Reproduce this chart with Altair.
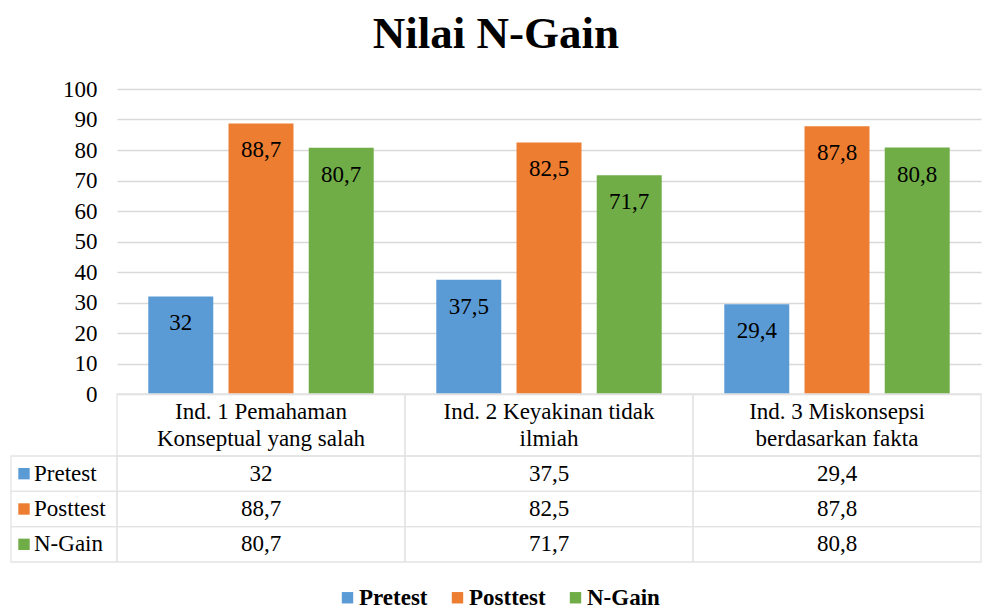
import altair as alt
import pandas as pd

FONT = "Liberation Serif"
FS = 23

categories = [
    "Ind. 1 Pemahaman\nKonseptual yang salah",
    "Ind. 2 Keyakinan tidak\nilmiah",
    "Ind. 3 Miskonsepsi\nberdasarkan fakta",
]
series = ["Pretest", "Posttest", "N-Gain"]
pretest = [32, 37.5, 29.4]
posttest = [88.7, 82.5, 87.8]
ngain = [80.7, 71.7, 80.8]
colors = ["#5b9bd5", "#ed7d31", "#70ad47"]
y_ticks = list(range(0, 101, 10))

rows = []
for s, vals in zip(series, [pretest, posttest, ngain]):
    for c, v in zip(categories, vals):
        rows.append({"category": c, "series": s, "value": v})
df = pd.DataFrame(rows)
hdr = pd.DataFrame({"category": categories})
lab = pd.DataFrame({"series": series})

GRID = "#d9d9d9"
TABLE = "#e4e4e4"
W = 864

xscale = alt.Scale(domain=categories, paddingInner=0, paddingOuter=0)
cscale = alt.Scale(domain=series, range=colors)
label_expr = "replace(toString(datum.value), '.', ',')"

base = alt.Chart(df).transform_calculate(label=label_expr)

xenc = alt.X("category:N", scale=xscale, axis=None, sort=categories)
xoff = alt.XOffset("series:N", scale=alt.Scale(domain=series, paddingInner=0.19, paddingOuter=0.39))
yenc = alt.Y(
    "value:Q",
    scale=alt.Scale(domain=[0, 100], nice=False),
    axis=alt.Axis(
        values=y_ticks, title=None, grid=True, gridColor=GRID, gridWidth=1.3,
        domain=False, ticks=False, labelFont=FONT, labelFontSize=FS,
        labelColor="black", labelPadding=20,
    ),
)

bars = base.mark_bar().encode(
    x=xenc,
    xOffset=xoff,
    y=yenc,
    color=alt.Color(
        "series:N", scale=cscale,
        legend=alt.Legend(
            orient="none", legendX=219, legendY=497, direction="horizontal", title=None,
            symbolType="square", symbolSize=130, symbolStrokeWidth=0,
            labelFont=FONT, labelFontWeight="bold", labelFontSize=FS,
            labelColor="black", columnPadding=18, labelOffset=0,
        ),
    ),
)
bar_labels = base.mark_text(font=FONT, fontSize=FS, baseline="middle", dy=27, color="black").encode(
    x=xenc, xOffset=xoff, y=yenc, text="label:N"
)
chart_bars = alt.layer(bars, bar_labels).properties(width=W, height=305)

# header row of the data table
hx = alt.X("category:N", scale=xscale, axis=None, sort=categories)
header_cells = alt.Chart(hdr).mark_rect(fillOpacity=0, stroke=TABLE, strokeWidth=1.3).encode(
    x=hx, y=alt.value(0), y2=alt.value(62)
)
header_text = alt.Chart(hdr).mark_text(
    font=FONT, fontSize=FS, lineBreak="\n", lineHeight=27, baseline="middle", dy=-13, color="black"
).encode(x=hx, y=alt.value(31), text="category:N")
chart_header = alt.layer(header_cells, header_text).properties(width=W, height=62)

# data rows of the table
ry = alt.Y("series:N", scale=alt.Scale(domain=series, paddingInner=0, paddingOuter=0), axis=None, sort=series)
row_cells = alt.Chart(df).mark_rect(fillOpacity=0, stroke=TABLE, strokeWidth=1.3).encode(
    x=hx, y=ry
)
row_text = base.mark_text(font=FONT, fontSize=FS, baseline="middle", color="black").encode(
    x=hx, y=ry, text="label:N"
)
left_cells = alt.Chart(lab).mark_rect(fillOpacity=0, stroke=TABLE, strokeWidth=1.3).encode(
    x=alt.value(-106), x2=alt.value(0), y=ry
)
left_keys = alt.Chart(lab).mark_point(shape="square", filled=True, size=130, opacity=1).encode(
    x=alt.value(-93), y=ry, color=alt.Color("series:N", scale=cscale, legend=None)
)
left_text = alt.Chart(lab).mark_text(font=FONT, fontSize=FS, baseline="middle", align="left", color="black").encode(
    x=alt.value(-83), y=ry, text="series:N"
)
chart_rows = alt.layer(row_cells, row_text, left_cells, left_keys, left_text).properties(width=W, height=106)

chart = alt.vconcat(chart_bars, chart_header, chart_rows, spacing=0, bounds="flush").resolve_scale(
    x="independent", y="independent", color="shared"
).properties(
    title=alt.Title("Nilai N-Gain", font=FONT, fontSize=45, fontWeight="bold", color="black",
                    anchor="middle", offset=21),
    padding={"left": 2, "top": 4, "right": 0, "bottom": 0},
).configure_view(stroke=None)

chart.save("out.html", embed_options={"renderer": "svg", "actions": False})
